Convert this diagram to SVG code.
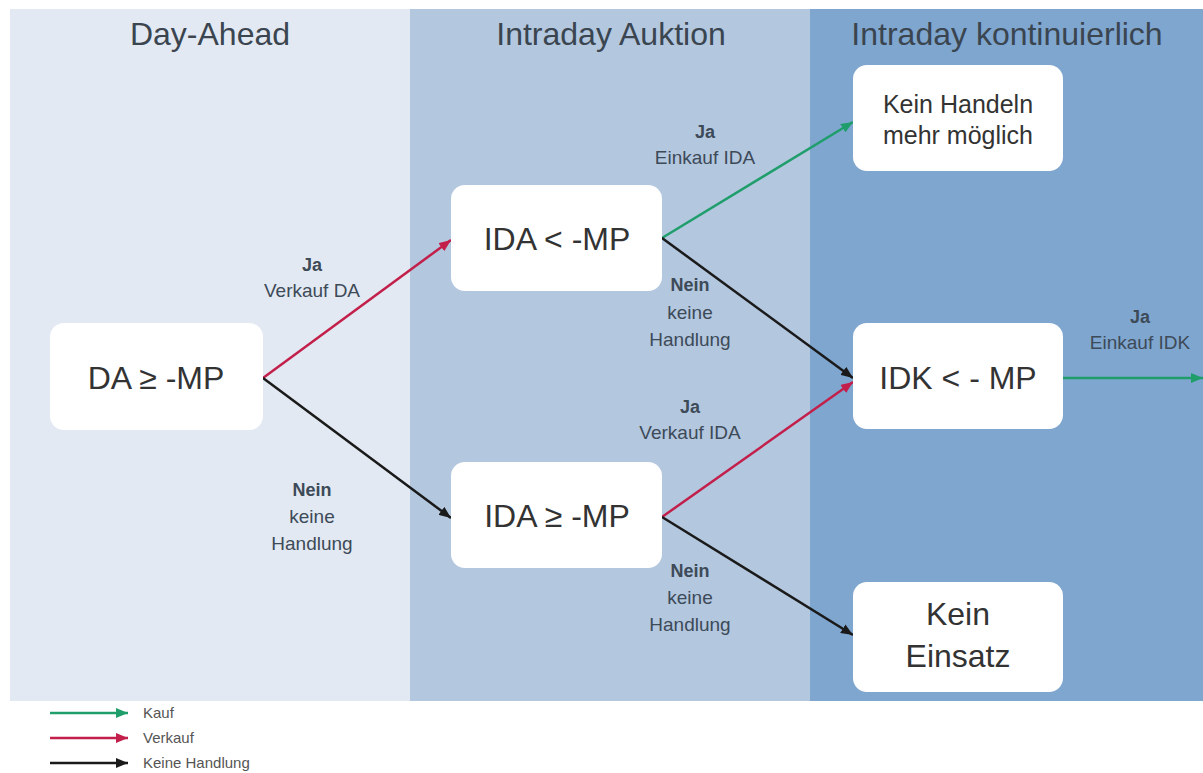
<svg xmlns="http://www.w3.org/2000/svg" width="1203" height="773" viewBox="0 0 1203 773">
<style>
.title{font-family:"Liberation Sans",Arial,sans-serif;font-size:32px;fill:#3a4550;text-anchor:middle}
.node rect{fill:#ffffff;rx:14px}
.ntext{font-family:"Liberation Sans",Arial,sans-serif;font-size:32px;fill:#333333;text-anchor:middle}
.ntext2{font-family:"Liberation Sans",Arial,sans-serif;font-size:25px;fill:#333333;text-anchor:middle}
.lbl{font-family:"Liberation Sans",Arial,sans-serif;font-size:19px;fill:#3d4a58;text-anchor:middle}
.lblb{font-family:"Liberation Sans",Arial,sans-serif;font-size:18px;font-weight:bold;fill:#3d4a58;text-anchor:middle}
.leg{font-family:"Liberation Sans",Arial,sans-serif;font-size:15px;fill:#555555}
.g{stroke:#1f9e6c;stroke-width:2.5;fill:none;marker-end:url(#ag)}
.r{stroke:#c21f4b;stroke-width:2.5;fill:none;marker-end:url(#ar)}
.k{stroke:#1a1a1a;stroke-width:2.5;fill:none;marker-end:url(#ak)}
</style>
<defs>
<marker id="ag" markerUnits="userSpaceOnUse" markerWidth="12" markerHeight="10" refX="12" refY="5" orient="auto"><path d="M0,0 L12,5 L0,10 Z" fill="#1f9e6c"/></marker>
<marker id="ar" markerUnits="userSpaceOnUse" markerWidth="12" markerHeight="10" refX="12" refY="5" orient="auto"><path d="M0,0 L12,5 L0,10 Z" fill="#c21f4b"/></marker>
<marker id="ak" markerUnits="userSpaceOnUse" markerWidth="12" markerHeight="10" refX="12" refY="5" orient="auto"><path d="M0,0 L12,5 L0,10 Z" fill="#1a1a1a"/></marker>
</defs>
<rect x="0" y="0" width="1203" height="773" fill="#ffffff"/>
<g id="lanes">
<rect x="10" y="9" width="400" height="692" fill="#e3e9f2"/>
<rect x="410" y="9" width="400" height="692" fill="#b3c7df"/>
<rect x="810" y="9" width="393" height="692" fill="#7fa6cf"/>
<text class="title" x="210" y="45">Day-Ahead</text>
<text class="title" x="611" y="45">Intraday Auktion</text>
<text class="title" x="1007" y="45">Intraday kontinuierlich</text>
</g>
<g id="connectors">
<line class="r" x1="263" y1="378" x2="451" y2="240"/>
<line class="k" x1="263" y1="378" x2="451" y2="518"/>
<line class="g" x1="662" y1="238" x2="853" y2="122"/>
<line class="k" x1="662" y1="238" x2="853" y2="378"/>
<line class="r" x1="662" y1="517" x2="853" y2="382"/>
<line class="k" x1="662" y1="517" x2="853" y2="635"/>
<line class="g" x1="1063" y1="378" x2="1203" y2="378"/>
<text class="lblb" x="312" y="271">Ja</text>
<text class="lbl" x="312" y="297">Verkauf DA</text>
<text class="lblb" x="312" y="496">Nein</text>
<text class="lbl" x="312" y="523">keine</text>
<text class="lbl" x="312" y="550">Handlung</text>
<text class="lblb" x="705" y="138">Ja</text>
<text class="lbl" x="705" y="164">Einkauf IDA</text>
<text class="lblb" x="690" y="291">Nein</text>
<text class="lbl" x="690" y="319">keine</text>
<text class="lbl" x="690" y="346">Handlung</text>
<text class="lblb" x="690" y="413">Ja</text>
<text class="lbl" x="690" y="439">Verkauf IDA</text>
<text class="lblb" x="690" y="577">Nein</text>
<text class="lbl" x="690" y="604">keine</text>
<text class="lbl" x="690" y="631">Handlung</text>
<text class="lblb" x="1140" y="323">Ja</text>
<text class="lbl" x="1140" y="349">Einkauf IDK</text>
</g>
<g id="n-da" class="node"><rect x="50" y="323" width="213" height="107"/><text class="ntext" x="156" y="389">DA ≥ -MP</text></g>
<g id="n-ida-lt" class="node"><rect x="451" y="185" width="211" height="106"/><text class="ntext" x="557" y="250">IDA &lt; -MP</text></g>
<g id="n-ida-ge" class="node"><rect x="451" y="462" width="211" height="106"/><text class="ntext" x="557" y="527">IDA ≥ -MP</text></g>
<g id="n-kein-handeln" class="node"><rect x="853" y="65" width="210" height="106"/><text class="ntext2" x="958" y="113">Kein Handeln</text><text class="ntext2" x="958" y="144">mehr möglich</text></g>
<g id="n-idk" class="node"><rect x="853" y="323" width="210" height="106"/><text class="ntext" x="958" y="389">IDK &lt; - MP</text></g>
<g id="n-kein-einsatz" class="node"><rect x="853" y="582" width="210" height="110"/><text class="ntext" x="958" y="625">Kein</text><text class="ntext" x="958" y="667">Einsatz</text></g>
<g id="legend">
<line class="g" x1="50" y1="713" x2="128" y2="713"/>
<line class="r" x1="50" y1="738" x2="128" y2="738"/>
<line class="k" x1="50" y1="763" x2="128" y2="763"/>
<text class="leg" x="143" y="718">Kauf</text>
<text class="leg" x="143" y="743">Verkauf</text>
<text class="leg" x="143" y="768">Keine Handlung</text>
</g>
</svg>
